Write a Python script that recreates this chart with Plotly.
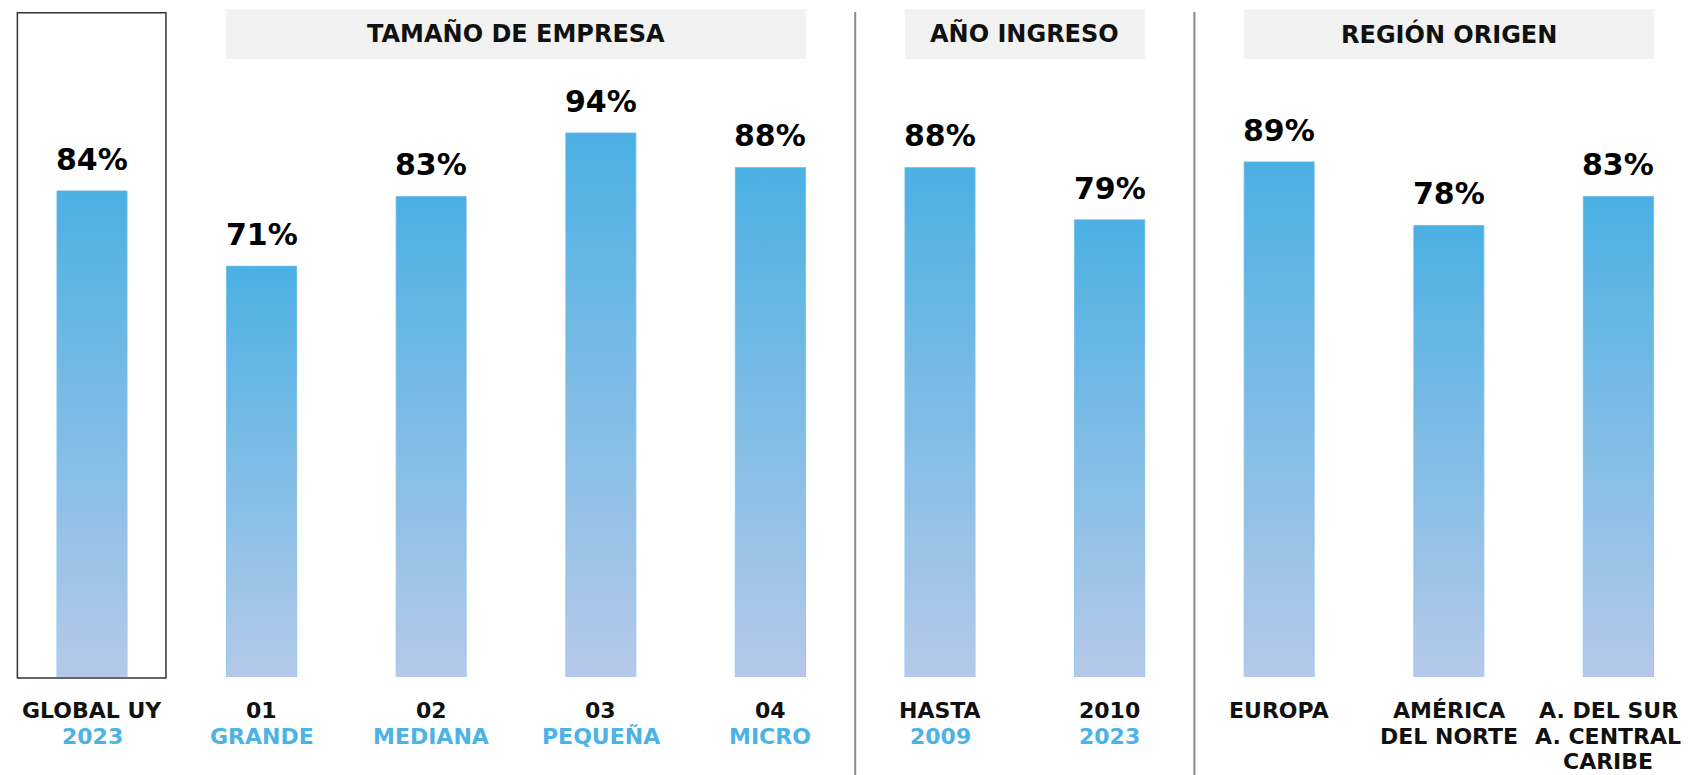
import plotly.graph_objects as go

# ---------------- data ----------------
label_line1 = ["GLOBAL UY", "01", "02", "03", "04", "HASTA", "2010", "EUROPA", "AMÉRICA", "A. DEL SUR"]
label_line2 = ["2023", "GRANDE", "MEDIANA", "PEQUEÑA", "MICRO", "2009", "2023", "", "DEL NORTE", "A. CENTRAL"]
label_line3 = ["", "", "", "", "", "", "", "", "", "CARIBE"]
line2_is_blue = [True, True, True, True, True, True, True, False, False, False]
values = [84, 71, 83, 94, 88, 88, 79, 89, 78, 83]
value_text = ["84%", "71%", "83%", "94%", "88%", "88%", "79%", "89%", "78%", "83%"]

group_titles = ["TAMAÑO DE EMPRESA", "AÑO INGRESO", "REGIÓN ORIGEN"]
group_first = [1, 5, 7]
group_last = [4, 6, 9]
divider_after = [4, 6]
highlight_index = 0

# ---------------- style ----------------
FONT = "DejaVu Sans"
TOP_BLUE = "#4BB0E3"
BOTTOM_BLUE = "#B5C9E9"
LABEL_BLUE = "#4BB3E6"
BAR_W = 0.416
OFF = 8          # default page margin of the html body
FIG_W, FIG_H = 1690 - OFF, 775 - OFF
PLOT_H = 677 - OFF  # pixel height of plotting area (t=0)
LABEL_SIZE = 22

xs = list(range(len(values)))
n = len(values)

fig = go.Figure()

# base bars (data)
fig.add_trace(go.Bar(
    x=xs, y=values, width=BAR_W,
    marker=dict(color=TOP_BLUE, line=dict(width=0)),
    hoverinfo="skip", showlegend=False,
))

# gradient overlay per bar, built from the same values
for x, v in zip(xs, values):
    fig.add_trace(go.Scatter(
        x=[x - BAR_W / 2, x + BAR_W / 2, x + BAR_W / 2, x - BAR_W / 2, x - BAR_W / 2],
        y=[0, 0, v, v, 0],
        mode="lines", fill="toself",
        line=dict(width=1, color="rgba(160,210,240,0.6)"),
        fillgradient=dict(type="vertical",
                          colorscale=[[0, BOTTOM_BLUE], [1, TOP_BLUE]],
                          start=0, stop=v),
        hoverinfo="skip", showlegend=False,
    ))

shapes = []
annotations = []


def py(refpix):
    return 1 - (refpix - OFF) / PLOT_H


# highlight box for global
shapes.append(dict(type="rect", xref="x", yref="paper",
                   x0=highlight_index - 0.44, x1=highlight_index + 0.436,
                   y0=py(678), y1=py(12.7),
                   line=dict(color="#333333", width=1.5), fillcolor="rgba(0,0,0,0)",
                   layer="below"))

# dividers
for d in divider_after:
    shapes.append(dict(type="line", xref="x", yref="paper",
                       x0=d + 0.5, x1=d + 0.5, y0=py(780), y1=py(12),
                       line=dict(color="#8A8A8A", width=2)))

# group headers
for title, a, b in zip(group_titles, group_first, group_last):
    shapes.append(dict(type="rect", xref="x", yref="paper",
                       x0=a - BAR_W / 2, x1=b + BAR_W / 2,
                       y0=py(59), y1=py(9.3),
                       line=dict(width=0), fillcolor="#F2F2F2", layer="below"))
    annotations.append(dict(x=(a + b) / 2, y=py(33.5), xref="x", yref="paper",
                            text=f"<b>{title}</b>", showarrow=False,
                            xanchor="center", yanchor="middle",
                            font=dict(family=FONT, size=24, color="#111111")))

# value labels
for x, v, t in zip(xs, values, value_text):
    annotations.append(dict(x=x, y=v, xref="x", yref="y", text=f"<b>{t}</b>",
                            showarrow=False, xanchor="center", yanchor="bottom",
                            yshift=12, font=dict(family=FONT, size=30, color="#000000")))

# category labels
for x, l1, l2, l3, blue in zip(xs, label_line1, label_line2, label_line3, line2_is_blue):
    xsh = -10 if x == n - 1 else 0
    annotations.append(dict(x=x, y=0, xref="x", yref="paper", text=f"<b>{l1}</b>",
                            showarrow=False, xanchor="center", yanchor="middle",
                            xshift=xsh, yshift=-33, borderpad=0,
                            font=dict(family=FONT, size=LABEL_SIZE, color="#111111")))
    if l2:
        annotations.append(dict(x=x, y=0, xref="x", yref="paper", text=f"<b>{l2}</b>",
                                showarrow=False, xanchor="center", yanchor="middle",
                                xshift=xsh, yshift=-59.5, borderpad=0,
                                font=dict(family=FONT, size=LABEL_SIZE,
                                          color=LABEL_BLUE if blue else "#111111")))
    if l3:
        annotations.append(dict(x=x, y=0, xref="x", yref="paper", text=f"<b>{l3}</b>",
                                showarrow=False, xanchor="center", yanchor="middle",
                                xshift=xsh, yshift=-84, borderpad=0,
                                font=dict(family=FONT, size=LABEL_SIZE, color="#111111")))

fig.update_layout(
    width=FIG_W, height=FIG_H,
    margin=dict(l=0, r=0, t=0, b=FIG_H - PLOT_H, pad=0),
    paper_bgcolor="white", plot_bgcolor="white",
    xaxis=dict(range=[-84 / 169.6, (FIG_W - 84) / 169.6], visible=False, fixedrange=True),
    yaxis=dict(range=[0, PLOT_H / 5.79], visible=False, fixedrange=True),
    shapes=shapes, annotations=annotations,
    showlegend=False, bargap=0,
)

fig.write_html("out.html")
